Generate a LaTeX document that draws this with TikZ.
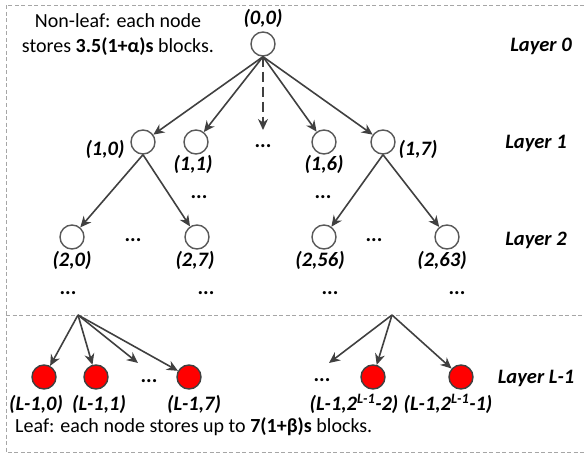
\documentclass[tikz,border=0pt]{standalone}
\usepackage{fontspec}
\setmainfont{Carlito}
\usetikzlibrary{arrows.meta}
\definecolor{arrc}{HTML}{404040}
\definecolor{circc}{HTML}{595959}
\definecolor{dashc}{HTML}{A6A6A6}
\begin{document}
\begin{tikzpicture}[x=1pt,y=-1pt,
  every node/.style={font=\fontsize{20}{25}\selectfont},
  lab/.style={font=\fontsize{20.5}{25}\selectfont\bfseries\itshape, inner sep=0pt},
  nd/.style={circle, draw=circc, line width=1.4pt, fill=white, minimum size=24pt, inner sep=0pt},
  leaf/.style={nd, fill=red, draw=arrc},
  arr/.style={draw=arrc, line width=1.6pt, -{Stealth[length=11pt,width=10pt,inset=3.5pt]}},
  box/.style={draw=dashc, line width=0.9pt, dash pattern=on 4pt off 2.5pt},
  dots/.style={font=\fontsize{21}{25}\selectfont\bfseries, inner sep=0pt}]
\useasboundingbox (0,0) rectangle (584,455);
% frame
\draw[box] (584,5) -- (6,5) -- (6,452) -- (584,452);
\draw[box] (6,315) -- (584,315);
% texts
\node[align=center, inner sep=0pt] (nonleaf) at (118,35) {Non-leaf: each node\\stores \textbf{3.5(1+α)s} blocks.};
\node[anchor=west, inner sep=0pt] (leaftext) at (15,427) {Leaf: each node stores up to \textbf{7(1+β)s} blocks.};
% layers
\node[lab] (L0) at (541,46) {Layer 0};
\node[lab] (L1) at (536,143) {Layer 1};
\node[lab] (L2) at (536,240) {Layer 2};
\node[lab] (LL) at (536,378) {Layer L-1};
% root
\node[nd] (root) at (263,44) {};
\node[lab] (lroot) at (263,18) {(0,0)};
% layer 1
\node[nd] (a10) at (143,142) {};
\node[nd] (a11) at (196,142) {};
\node[nd] (a16) at (324,142) {};
\node[nd] (a17) at (383,142) {};
\coordinate (amid) at (263,130);
\node[dots] (d1) at (263,146) {...};
\node[lab] (la10) at (105,149) {(1,0)};
\node[lab] (la11) at (193,164) {(1,1)};
\node[lab] (la16) at (324,164) {(1,6)};
\node[lab] (la17) at (418,149) {(1,7)};
\node[dots] (d2) at (199,197) {...};
\node[dots] (d3) at (323,197) {...};
% layer 2
\node[nd] (b20) at (72,237) {};
\node[nd] (b27) at (197,237) {};
\node[nd] (b256) at (324,237) {};
\node[nd] (b263) at (447,237) {};
\node[dots] (d4) at (133,240) {...};
\node[dots] (d5) at (374,240) {...};
\node[lab] (lb20) at (72,260) {(2,0)};
\node[lab] (lb27) at (195,260) {(2,7)};
\node[lab] (lb256) at (320,260) {(2,56)};
\node[lab] (lb263) at (442,260) {(2,63)};
\node[dots] (d6) at (68,293) {...};
\node[dots] (d7) at (206,293) {...};
\node[dots] (d8) at (330,293) {...};
\node[dots] (d9) at (457,293) {...};
% leaves
\coordinate (F1) at (78,315);
\coordinate (F2) at (392,315);
\node[leaf] (l0) at (44,377) {};
\node[leaf] (l1) at (96,377) {};
\node[leaf] (l7) at (189,377) {};
\coordinate (lmid) at (138,363);
\node[dots] (d10) at (149,381) {...};
\coordinate (rmid) at (329,363);
\node[dots] (d11) at (322,380) {...};
\node[leaf] (lA) at (373,377) {};
\node[leaf] (lB) at (461,377) {};
\node[lab] (ll0) at (36,404) {(L-1,0)};
\node[lab] (ll1) at (99,404) {(L-1,1)};
\node[lab] (ll7) at (194,404) {(L-1,7)};
\node[lab] (llA) at (354,404) {(L-1,2\textsuperscript{L-1}-2)};
\node[lab] (llB) at (448,404) {(L-1,2\textsuperscript{L-1}-1)};
% edges
\draw[arr] (root.south) -- (a10);
\draw[arr] (root.south) -- (a11);
\draw[arr, dash pattern=on 10pt off 5pt] (root.south) -- (amid);
\draw[arr] (root.south) -- (a16);
\draw[arr] (root.south) -- (a17);
\draw[arr] (a10.south) -- (b20);
\draw[arr] (a10.south) -- (b27);
\draw[arr] (a17.south) -- (b256);
\draw[arr] (a17.south) -- (b263);
\draw[arr] (F1) -- (l0);
\draw[arr] (F1) -- (l1);
\draw[arr] (F1) -- (lmid);
\draw[arr] (F1) -- (l7);
\draw[arr] (F2) -- (rmid);
\draw[arr] (F2) -- (lA);
\draw[arr] (F2) -- (lB);
\end{tikzpicture}
\end{document}
